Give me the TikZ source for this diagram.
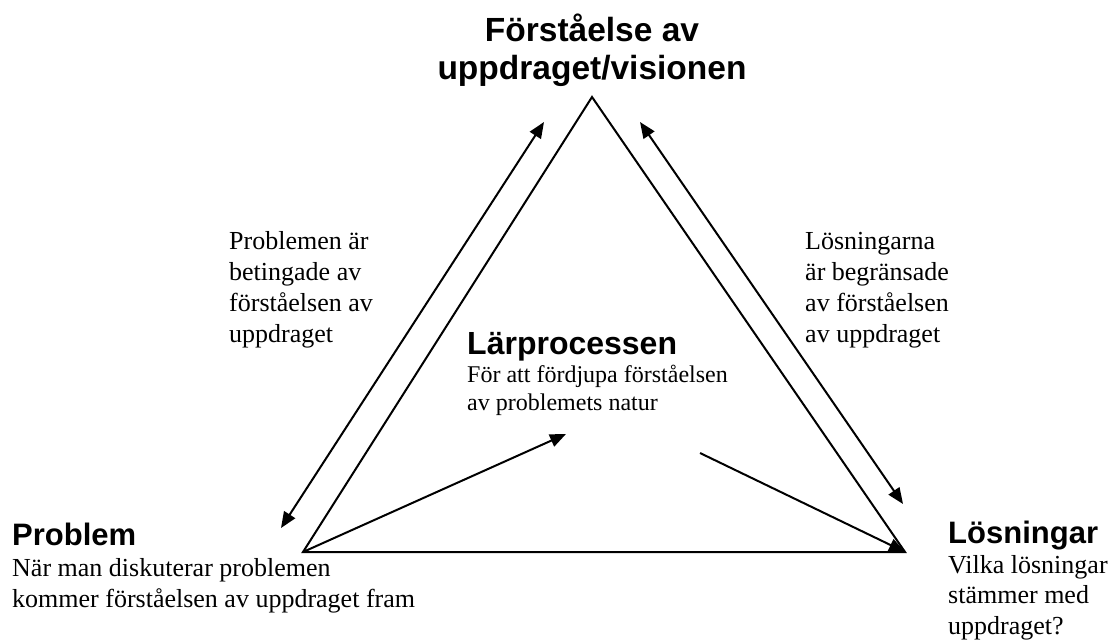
\documentclass[tikz,border=0pt]{standalone}
\usepackage{fontspec}
\setmainfont{Liberation Serif}
\newfontfamily\headfont{Liberation Sans}
\usetikzlibrary{arrows.meta}
\begin{document}
\begin{tikzpicture}[x=1pt, y=-1pt,
  edge/.style={line width=2pt, line join=miter},
  arr/.style={edge, -{Triangle[length=16pt, width=13pt]}},
  darr/.style={edge, {Triangle[length=16pt, width=13pt]}-{Triangle[length=16pt, width=13pt]}},
  head/.style={font=\headfont\bfseries\fontsize{31}{37}\selectfont, inner sep=0pt, anchor=base west},
  body/.style={font=\fontsize{26}{30.5}\selectfont, inner sep=0pt, anchor=base west, align=left}]
\useasboundingbox (0,0) rectangle (1115,640);

% triangle corners
\coordinate (apex) at (592,97);
\coordinate (pl) at (303,552);
\coordinate (lr) at (905,552);
% ends of the side arrows and the inner arrows
\coordinate (la) at (281,528);
\coordinate (lb) at (544,122);
\coordinate (ra) at (640,122);
\coordinate (rb) at (903,504);
\coordinate (li) at (566,434);
\coordinate (ls) at (700,453);

\draw[edge] (apex) -- (pl) -- (lr) -- cycle;
\draw[darr] (la) -- (lb);
\draw[darr] (ra) -- (rb);
\draw[arr] (pl) -- (li);
\draw[arr] (ls) -- (lr);

% labels (multi-line nodes sit on the baseline of their last line)
\node[font=\headfont\bfseries\fontsize{33.5}{38}\selectfont, inner sep=0pt, anchor=base, align=center]
  (top) at (592,79) {Förståelse av\\uppdraget/visionen};

\node[head] (prob) at (12,545) {Problem};
\node[body] (probtxt) at (12,607) {När man diskuterar problemen\\kommer förståelsen av uppdraget fram};

\node[head] (los) at (948,543) {Lösningar};
\node[body] (lostxt) at (948,634) {Vilka lösningar\\stämmer med\\uppdraget?};

\node[head, font=\headfont\bfseries\fontsize{32}{37}\selectfont] (lar) at (467,354) {Lärprocessen};
\node[body, font=\fontsize{24}{28}\selectfont] (lartxt) at (467,410) {För att fördjupa förståelsen\\av problemets natur};

\node[body, font=\fontsize{26}{30.7}\selectfont] (left) at (229,342) {Problemen är\\betingade av\\förståelsen av\\uppdraget};
\node[body, font=\fontsize{26}{30.7}\selectfont] (right) at (805,342) {Lösningarna\\är begränsade\\av förståelsen\\av uppdraget};
\end{tikzpicture}
\end{document}
